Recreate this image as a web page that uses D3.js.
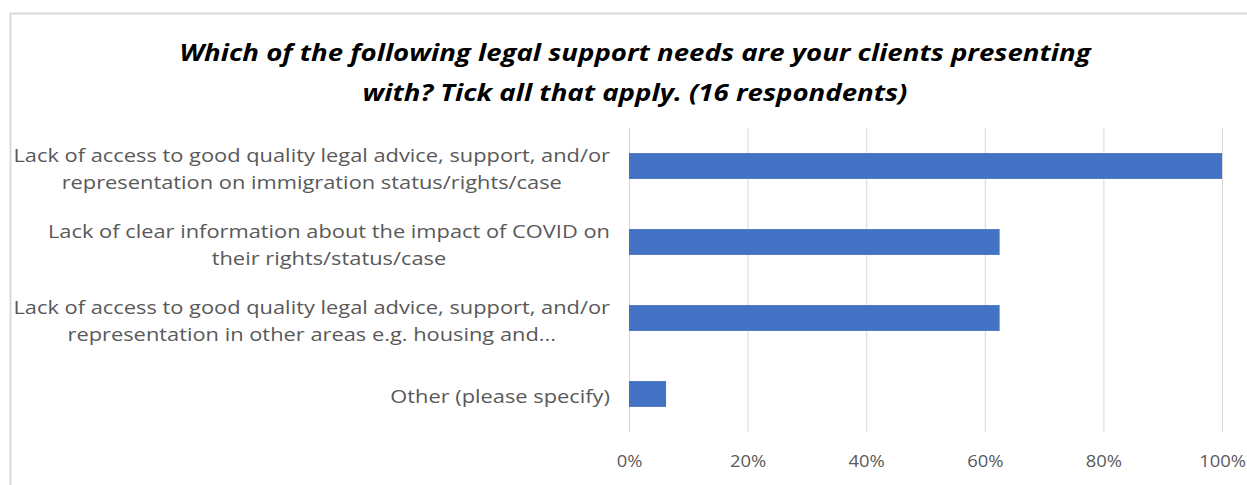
<!DOCTYPE html>
<html>
<head>
<meta charset="utf-8">
<script src="https://cdn.jsdelivr.net/npm/d3@7"></script>
<style>
  html, body { margin: 0; padding: 0; background: #fff; }
  svg { display: block; }
</style>
</head>
<body>
<svg id="chart" width="1247" height="485"></svg>
<script>
// Survey: legal support needs (share of 16 respondents)
const categories = [
  ["Lack of access to good quality legal advice, support, and/or", "representation on immigration status/rights/case"],
  ["Lack of clear information about the impact of COVID on", "their rights/status/case"],
  ["Lack of access to good quality legal advice, support, and/or", "representation in other areas e.g. housing and..."],
  ["Other (please specify)"]
];
const values = [1.0, 0.625, 0.625, 0.0625];
const tickValues = [0, 0.2, 0.4, 0.6, 0.8, 1.0];
const titleLines = [
  "Which of the following legal support needs are your clients presenting",
  "with? Tick all that apply. (16 respondents)"
];

const svg = d3.select("#chart");
const W = 1247, H = 485;
const plot = { left: 629, right: 1222, top: 128, bottom: 432 };
const font = "'Open Sans', sans-serif";

// widen a text element horizontally by factor k, keeping its glyph height
function widen(sel, k) {
  sel.each(function () {
    const w = this.getComputedTextLength();
    d3.select(this)
      .attr("textLength", w * k)
      .attr("lengthAdjust", "spacingAndGlyphs");
  });
  return sel;
}

// chart frame
svg.append("path")
  .attr("d", `M10.5,${H} L10.5,13.5 L${W},13.5`)
  .attr("fill", "none")
  .attr("stroke", "#d9d9d9")
  .attr("stroke-width", 2);

// title
svg.append("g")
  .selectAll("text")
  .data(titleLines)
  .join("text")
  .attr("x", 635)
  .attr("y", (d, i) => 61 + i * 40)
  .attr("text-anchor", "middle")
  .attr("font-family", font)
  .attr("font-weight", "bold")
  .attr("font-style", "italic")
  .attr("font-size", 23)
  .attr("fill", "#000")
  .text(d => d)
  .call(widen, 1.2);

const x = d3.scaleLinear().domain([0, 1]).range([plot.left, plot.right]);
const y = d3.scaleBand()
  .domain(d3.range(categories.length))
  .range([plot.top, plot.bottom])
  .paddingInner(0.66)
  .paddingOuter(0.33);

// vertical gridlines
svg.append("g")
  .selectAll("line")
  .data(tickValues)
  .join("line")
  .attr("x1", d => x(d) + 0.5)
  .attr("x2", d => x(d) + 0.5)
  .attr("y1", plot.top)
  .attr("y2", plot.bottom)
  .attr("stroke", "#d9d9d9")
  .attr("stroke-width", 1);

// x axis tick labels
const xAxis = d3.axisBottom(x)
  .tickValues(tickValues)
  .tickFormat(d3.format(".0%"))
  .tickSize(0)
  .tickPadding(0);
const gx = svg.append("g")
  .attr("transform", `translate(0,${plot.bottom + 24})`)
  .call(xAxis);
gx.select(".domain").remove();
gx.selectAll("text")
  .attr("font-family", font)
  .attr("font-size", 16)
  .attr("fill", "#595959")
  .call(widen, 1.15);

// bars
svg.append("g")
  .selectAll("rect")
  .data(values)
  .join("rect")
  .attr("x", x(0))
  .attr("y", (d, i) => y(i))
  .attr("width", d => x(d) - x(0))
  .attr("height", y.bandwidth())
  .attr("fill", "#4472c4");

// category labels: each block right-aligned to the plot, lines centered within it
const lineH = 27;
const labelRight = 610;
const labelStretch = 1.18;
const gy = svg.append("g");
categories.forEach((lines, i) => {
  const cy = y(i) + y.bandwidth() / 2 + 3;
  const texts = lines.map((ln, j) => gy.append("text")
    .attr("y", cy + (j - (lines.length - 1) / 2) * lineH)
    .attr("dy", "0.35em")
    .attr("text-anchor", "middle")
    .attr("font-family", font)
    .attr("font-size", 18.5)
    .attr("fill", "#595959")
    .text(ln));
  texts.forEach(t => widen(t, labelStretch));
  const wMax = d3.max(texts, t => +t.attr("textLength"));
  texts.forEach(t => t.attr("x", labelRight - wMax / 2));
});
</script>
</body>
</html>
